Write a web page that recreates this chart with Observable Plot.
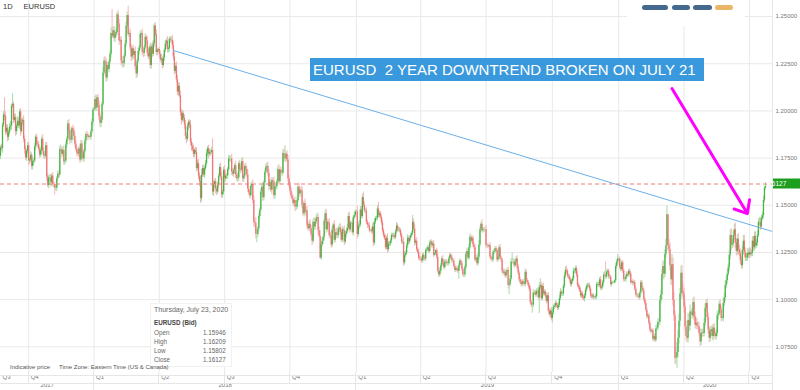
<!DOCTYPE html>
<html><head><meta charset="utf-8">
<script src="https://cdn.jsdelivr.net/npm/d3@7"></script>
<script src="https://cdn.jsdelivr.net/npm/@observablehq/plot@0.6"></script>
<style>
body{margin:0;background:#fff;font-family:"Liberation Sans",Arial,sans-serif;}
#wrap{position:relative;width:800px;height:390px;overflow:hidden;background:#fff;}
#chart{position:absolute;left:0;top:0;}
.ov{position:absolute;white-space:nowrap;color:#555;}
#title{left:3px;top:2px;font-size:7.5px;color:#333;}
#title span{margin-left:11px;}
#note{left:310px;top:58px;width:394px;height:23px;background:#3a99dc;color:#fff;font-size:15px;line-height:23px;padding-left:3px;box-sizing:border-box;}
#info{left:150px;top:303px;width:82px;height:64px;background:rgba(255,255,255,0.92);border:1px solid #f1f1f1;box-sizing:border-box;font-size:6.3px;color:#666;}
#info div{position:absolute;left:3px;}
#info .v{left:52px;}
#foot1{left:10px;top:364px;font-size:6px;color:#555;}
#foot2{left:59px;top:364px;font-size:6px;color:#555;}
</style></head><body>
<div id="wrap">
<div id="chart"></div>
<div class="ov" id="title">1D<span>EURUSD</span></div>
<div class="ov" id="note">EURUSD&nbsp; 2 YEAR DOWNTREND BROKEN ON JULY 21</div>
<div class="ov" id="info"></div>
<div class="ov" id="foot1">Indicative price</div>
<div class="ov" id="foot2">Time Zone: Eastern Time (US &amp; Canada)</div>
</div>
<script>
// ---- DATA: daily EURUSD, one token per weekday from 2017-08-23 ----
// token = close (1.xxxx -> last 4 digits) + upper wick digit + lower wick digit (x 6 pips)
const startDate = "2017-08-23";
const firstOpen = 1.1760;
const y2017 = [
"180523 180032 192524 197832 197024 188843 190832",
"186034  188523 191532 192043 202524 203532  195023 196532 189034 192023 194542  192032 199523 189034 194032 195023  185043 179534 175032 178523 181532",
"173534 174023 176532 170523 173043  173523 181032 186023 182532 182023  179532 176523 179032 185023 178543  176032 176023 181532 165034 160532  164523 164532",
"162034 165523 161032  161023 159024 159032 164023 166532  166023 179532 179542 177023 179032  173043 173523 182032 185023 193032  189543 184534 184532 190523",
"189532  186534 182533 179532 177523 177032  180023 174043 182532 177534 174532  178523 184032 187523 187032 186023  186511 186022 189023 194032 200523"
];
const y2018 = [
"201011 206032 201543 207023 203032  197043 193534 195034 203523 220052  226532 226043 217534 224023 222032  226023 230032 241053 239532 242532  238543 240534 241543",
"251023 246043  237044 237532 226534 225043 225034  229023 235532 245043 250532 240532  241023 233543 228534 233023 229534  231523 223543 219534",
"226523 231532  233523 240532 241023 231043 230534  233523 239032 237023 230543 228532  233523 224043 234023 230043 235532  245023 240532 231043 232023 232511",
"230023 227032 227543 224023 228032  232023 235532 237023 232543 233023  238023 237523 237532 234543 228543  221043 223532 216543 210043 213034  208032",
"199043 195034 198532 196023  192534 186543 185034 191532 194023  192523 183543 181034 179532 177043  179023 178032 169543 172032 165543  162534 153553 166053 169532",
"166032  169523 172032 177532 180023 177034  178032 178023 179032 157003 161034  162523 158534 157023 160532 165523  170032 165043 155543 157023 168532",
"164043 165523 165523 169023 174532  174532 174523 167543 166532 168523  171023 166043 164032 164543 172023  169032 168523 173032 164043 165523  170523 169032",
"166032 158543 156532  155023 160032 161023 152543 141044  140534 134554 134545 137523 144032  147523 157032 159523 154043 162023  167523 170032 170532 167043 160034",
"162023 158032 163034 162523 155043  159523 160032 162523 169032 162543  168523 167532 167023 177532 174543  174532 177023 174032 164043 160532",
"157532 155032 153532 151032 152523  149034 149023 152532 159532 156043  158023 157532 150043 145532 151023  146543 147034 139043 137532 140032  137543 134532 131034",
"141032 138543  141023 143032 143543 136534 133532  122054 129032 131032 133023 141523  145532 137043 141032 140522 134043  133532 129043 137032 139523 131543",
"135532 134043 134032 137523 138032  135543 131532 137032 136523 130543  134532 136023 138032 144032 137043  140522 140511 135532 143523 144532  146522"
];
const y2019 = [
"146511 134554 139032 139543  147532 144032 154032 150052 147032  147022 141032 139523 139022 136532  136511 136022 138532 130043 141032  143022 143022 148032 144562",
"145522  143522 140522 136532 134022 132522  127532 132522 126543 129522 129522  131022 134022 134022 133522 133022  136022 139032 137022 137022",
"136522  134022 130522 130522 119543 123532  124522 128522 132532 130522 132522  134022 135022 141062 137532 130043  131022 126532 125022 122032 121522",
"121522 120522 123522 122022 121522  126022 126522 127522 125522 130022  130522 128522 129522 123532 124511  126011 122522 115032 113032 115032  118022 121522",
"119532 117022 120022  120022 119022 119022 121522 123522  122522 120522 120522 117522 115522  116522 116022 115022 118027 120522  119011 116022 113022 113022 117022",
"124022 125532 122022 127532 133032  131022 132522 129022 127522 121032  122022 119032 122532 129043 137032  140022 136542 137022 137022 137022",
"128542 128522 128022 128511 122532  121522 121022 125022 125522 127022  126022 121022 122522 127522 122032  121022 115022 114022 114532 112522  114522 115522 107533",
"108038 111032  120032 120082 120032 118022 120022  121522 117032 114032 110522 109022  108022 109522 108522 108022 114532  110022 109022 107522 105522 098532",
"097022 097027 103532 103522 102522  104522 104522 101032 106543 107562  100532 107022 103032 104022 102022  099032 102022 094032 092022 094022  090032",
"093034 096022 096522 098022  097022 095522 097022 100532 104032  103022 103022 107022 112532 115532  115042 112522 112022 110522 108022  109522 111022 115032 115022",
"116522  113022 107532 106522 105022 102022  103022 101022 100522 102023 105022  107022 107522 107522 105522 102022  101522 102022 101022 101011 101522",
"108022 108022 107522 110522 106032  106522 109022 113022 113032 112052  114522 115022 112022 112022 108022  109022 109011 109011 110011 117532  120022 121542"
];
const y2020 = [
"121511 117022 116032  119522 115022 110522 110522 112022  113522 113022 115022 113522 109022  109511 108522 109022 105522 102522  102022 102022 101022 103522 109022",
"106022 104522 100022 098022 094522  091022 091522 087522 084022 083022  083511 079022 080522 078522 084532  085032 088032 088032 099543 102543",
"113544 117555 113555 124043 128564  145080 128505 126564 118065 110575  118595 099565 091575 069046 069595  072096 079575 088565 103055 114065  104575 103065",
"096055 085554 080554  079554 089064 086055 093564 093522  091533 098543 091054 086543 087554  086043 085543 082043 077544 082043  082533 082033 087543 095543",
"098034  090543 084044 079534 083043 084034  080543 085034 081543 080533 082043  091543 092534 097532 094543 090033  090022 098043 101043 107543 110043",
"113543 117032 123543 134054 129065  129543 134043 137054 130065 125544  132043 126555 124543 120543 118043  126043 131054 125054 122043 122043  124543 123543",
"125043 124043 124532  131043 127543 133543 128543 130032  134043 141032 141043 138543 143032  144532 152543 159042 161212"
];
// notable extremes
const extremes = [
["2017-08-29","high",1.2070],["2017-09-08","high",1.2092],["2017-11-07","low",1.1554],
["2018-01-25","high",1.2537],["2018-02-16","high",1.2555],["2018-05-29","low",1.1510],
["2018-06-14","high",1.1852],["2018-08-15","low",1.1301],["2018-09-24","high",1.1815],
["2018-11-12","low",1.1216],["2019-09-12","low",1.0927],["2019-12-13","high",1.1200],
["2020-03-09","high",1.1496],["2020-03-23","low",1.0636],
["2020-07-23","close",1.16127],["2020-07-23","high",1.16209],["2020-07-23","low",1.15802]
];
const lastQuote = {date:"Thursday, July 23, 2020", sym:"EURUSD (Bid)", open:"1.15946", high:"1.16209", low:"1.15802", close:"1.16127"};
const yTicks = [1.075, 1.100, 1.125, 1.150, 1.175, 1.200, 1.225, 1.250];
const quarterStarts = ["2017-10-01","2018-01-01","2018-04-01","2018-07-01","2018-10-01","2019-01-01","2019-04-01","2019-07-01","2019-10-01","2020-01-01","2020-04-01","2020-07-01"];
const quarterLabels = ["Q3","Q4","Q1","Q2","Q3","Q4","Q1","Q2","Q3","Q4","Q1","Q2","Q3"];
const yearLabels = ["2017","2018","2019","2020"];
const yearBounds = ["2017-08-23","2018-01-01","2019-01-01","2020-01-01","2020-09-10"];
const trend = [["2018-04-20",1.2320],["2020-08-03",1.1361]];
const arrowPts = [["2020-03-16",1.2119],["2020-06-29",1.1456]];

// ---- build ----
function idxOf(s){let d=new Date(startDate+"T00:00:00Z"),t=new Date(s+"T00:00:00Z"),k=0;while(d<t){const w=d.getUTCDay();if(w!==0&&w!==6)k++;d.setUTCDate(d.getUTCDate()+1);}return k;}
const tokens=[...y2017,...y2018,...y2019,...y2020].join(" ").trim().split(/\s+/);
const candles=[];{let d=new Date(startDate+"T00:00:00Z"),prev=firstOpen;
for(const t of tokens){while(d.getUTCDay()===0||d.getUTCDay()===6)d.setUTCDate(d.getUTCDate()+1);
const c=1+(+t.slice(0,4))/1e4,u=(+t[4])*6e-4,dn=(+t[5])*6e-4;
candles.push({i:candles.length,date:d.toISOString().slice(0,10),open:prev,close:c,high:Math.max(prev,c)+u,low:Math.min(prev,c)-dn});
prev=c;d.setUTCDate(d.getUTCDate()+1);}}
const byDate=new Map(candles.map(c=>[c.date,c]));
for(const [dt,k,v] of extremes){const c=byDate.get(dt);if(!c)continue;c[k]=v;}
for(const c of candles){c.high=Math.max(c.high,c.open,c.close);c.low=Math.min(c.low,c.open,c.close);c.up=c.close>=c.open;}
const lastClose=candles[candles.length-1].close;
const quarters=[{i:0,label:quarterLabels[0]},...quarterStarts.map((s,k)=>({i:idxOf(s),label:quarterLabels[k+1]}))];
const years=yearLabels.map((l,k)=>({label:l,i:(idxOf(yearBounds[k])+idxOf(yearBounds[k+1]))/2}));
const trendData=trend.map(([d,p])=>({i:idxOf(d),price:p}));
const arrowData=[{x1:idxOf(arrowPts[0][0]),y1:arrowPts[0][1],x2:idxOf(arrowPts[1][0]),y2:arrowPts[1][1]}];
const font="'Liberation Sans', Arial, sans-serif";

const chart=Plot.plot({
  width:800,height:390,marginLeft:0,marginRight:28,marginTop:0,marginBottom:18,
  x:{type:"linear",domain:[0,768],axis:null},
  y:{domain:[1.0614,1.2585],axis:null},
  style:{fontFamily:font,background:"#fff",overflow:"visible"},
  marks:[
    Plot.ruleY(yTicks,{stroke:"#e9e9e9"}),
    Plot.ruleX(quarters.slice(1),{x:"i",stroke:"#e9e9e9"}),
    Plot.ruleX(candles,{x:"i",y1:"low",y2:"high",stroke:d=>d.up?"#a6dba6":"#f5b6b6",strokeWidth:1}),
    Plot.ruleX(candles,{x:"i",y1:"open",y2:"close",stroke:d=>d.up?"#44b444":"#ef7474",strokeWidth:1.3}),
    Plot.line(trendData,{x:"i",y:"price",stroke:"#6cb0ea",strokeWidth:1}),
    Plot.ruleY([lastClose],{stroke:"#f27a7a",strokeDasharray:"4,3"}),
    Plot.arrow(arrowData,{x1:"x1",y1:"y1",x2:"x2",y2:"y2",stroke:"#ff00ff",strokeWidth:3,headLength:7,headAngle:80}),
    Plot.text(yTicks,{y:d=>d,text:d=>d.toFixed(5),frameAnchor:"right",textAnchor:"start",dx:3,fontSize:6,fill:"#777"}),
    Plot.text(quarters,{x:"i",text:"label",frameAnchor:"bottom",textAnchor:"start",dx:2,dy:6,fontSize:6,fill:"#777"}),
    Plot.text(years,{x:"i",text:"label",frameAnchor:"bottom",dy:14.5,fontSize:6,fill:"#777"})
  ]
});
document.getElementById("chart").appendChild(chart);
// decorations of the axis strip, logo, price tag
const svg=d3.select(chart), xs=chart.scale("x"), ys=chart.scale("y");
const g=svg.append("g").attr("stroke","#e6e6e6").attr("shape-rendering","crispEdges");
g.append("line").attr("x1",0).attr("x2",772).attr("y1",375.5).attr("y2",375.5);
g.append("line").attr("x1",0).attr("x2",772).attr("y1",383.5).attr("y2",383.5);
for(const q of quarters.slice(1)){const x=xs.apply(q.i);g.append("line").attr("x1",x).attr("x2",x).attr("y1",372).attr("y2",383);}
for(const b of yearBounds.slice(1,4)){const x=xs.apply(idxOf(b));g.append("line").attr("x1",x).attr("x2",x).attr("y1",383).attr("y2",390);}
g.append("line").attr("x1",772.5).attr("x2",772.5).attr("y1",0).attr("y2",390);
const logo=svg.append("g");
logo.append("rect").attr("x",627).attr("y",0).attr("width",118).attr("height",26).attr("fill","#fff");
[[642,26,"#244f78"],[672,18,"#244f78"],[693,19,"#244f78"],[715,18,"#e6a94a"]].forEach(([x,w,c])=>logo.append("rect").attr("x",x).attr("y",5).attr("width",w).attr("height",5).attr("rx",2.5).attr("fill",c).attr("opacity",0.85));
const py=ys.apply(lastClose);
svg.append("rect").attr("x",773).attr("y",py-5).attr("width",27).attr("height",10).attr("fill","#1e9e1e");
svg.append("text").attr("x",774.5).attr("y",py).attr("dy","0.35em").attr("fill","#fff").attr("font-size",6.5).attr("font-family",font).text(lastQuote.close);
// info box
const info=document.getElementById("info");
const rows=[["",lastQuote.date,6,false],["",lastQuote.sym,19,true],["Open",lastQuote.open,29],["High",lastQuote.high,38],["Low",lastQuote.low,47],["Close",lastQuote.close,56]];
rows.forEach(([l,v,t,b],k)=>{if(k<2){const e=document.createElement("div");e.style.top=(t-4)+"px";e.textContent=v;if(b){e.style.fontWeight="bold";e.style.color="#444";}else{e.style.fontSize="7px";}info.appendChild(e);}
else{const a=document.createElement("div");a.style.top=(t-4)+"px";a.textContent=l;info.appendChild(a);const c=document.createElement("div");c.className="v";c.style.top=(t-4)+"px";c.textContent=v;info.appendChild(c);}});
</script>
</body></html>
